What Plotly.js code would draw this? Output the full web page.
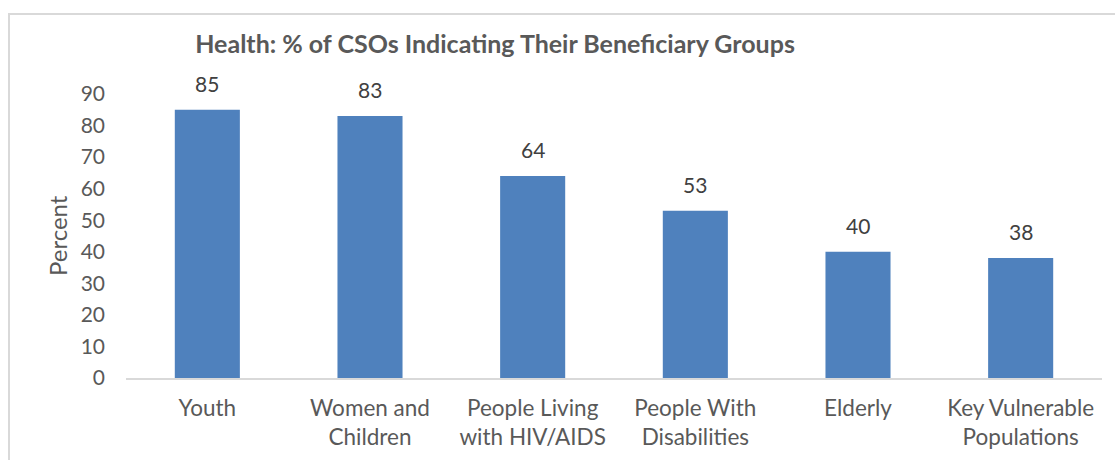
<!DOCTYPE html>
<html>
<head>
<meta charset="utf-8">
<script src="https://cdn.plot.ly/plotly-3.0.1.min.js"></script>
<style>
  html, body { margin: 0; padding: 0; background: #fff; }
  #wrap { position: relative; width: 1115px; height: 460px; overflow: hidden; }
  #chart { position: absolute; left: 0; top: 0; width: 1115px; height: 460px; }
  #frame { position: absolute; left: 8px; top: 13px; width: 1200px; height: 600px;
           border-left: 2px solid #d9d9d9; border-top: 2px solid #d9d9d9; pointer-events: none; }
</style>
</head>
<body>
<div id="wrap">
  <div id="chart"></div>
  <div id="frame"></div>
</div>
<script>
const categories = ["Youth", "Women and<br>Children", "People Living<br>with HIV/AIDS", "People With<br>Disabilities", "Elderly", "Key Vulnerable<br>Populations"];
const values = [85, 83, 64, 53, 40, 38];
const yTicks = [0, 10, 20, 30, 40, 50, 60, 70, 80, 90];
const titleText = "Health: % of CSOs Indicating Their Beneficiary Groups";
const yTitle = "Percent";

const FONT = "Lato, 'Open Sans', sans-serif";
const GREY = "#595959";

const trace = {
  type: "bar",
  x: categories,
  y: values,
  marker: { color: "#4F81BD" },
  hoverinfo: "none"
};

const annotations = values.map((v, i) => ({
  x: categories[i], y: v, xref: "x", yref: "y",
  text: String(v), showarrow: false,
  yanchor: "bottom", yshift: 12,
  font: { family: FONT, size: 21, color: "#404040" }
}));
annotations.push({
  xref: "paper", yref: "paper", x: 0, y: 0.5, xshift: -69,
  xanchor: "center", yanchor: "middle", textangle: -90,
  text: yTitle, showarrow: false,
  font: { family: FONT, size: 24, color: GREY }
});

const layout = {
  width: 1115, height: 460,
  margin: { l: 126, r: 13, t: 94, b: 82 },
  paper_bgcolor: "rgba(0,0,0,0)",
  plot_bgcolor: "rgba(0,0,0,0)",
  bargap: 0.6,
  showlegend: false,
  title: {
    text: "<b>" + titleText + "</b>",
    xref: "container", yref: "container",
    x: 0.444, xanchor: "center", y: 1 - 44/460, yanchor: "middle",
    font: { family: FONT, size: 25, color: GREY }
  },
  xaxis: {
    showline: true, linecolor: "#d9d9d9", linewidth: 2,
    ticks: "", showgrid: false, zeroline: false,
    tickfont: { family: FONT, size: 22.5, color: GREY },
    ticklabelstandoff: 9,
    fixedrange: true
  },
  yaxis: {
    range: [0, 90], tickvals: yTicks, ticktext: yTicks.map(String),
    showline: false, showgrid: false, zeroline: false, ticks: "",
    tickfont: { family: FONT, size: 21, color: GREY },
    ticklabelstandoff: 20,
    fixedrange: true
  },
  annotations: annotations
};

Plotly.newPlot("chart", [trace], layout, { displayModeBar: false, staticPlot: true });
</script>
</body>
</html>
